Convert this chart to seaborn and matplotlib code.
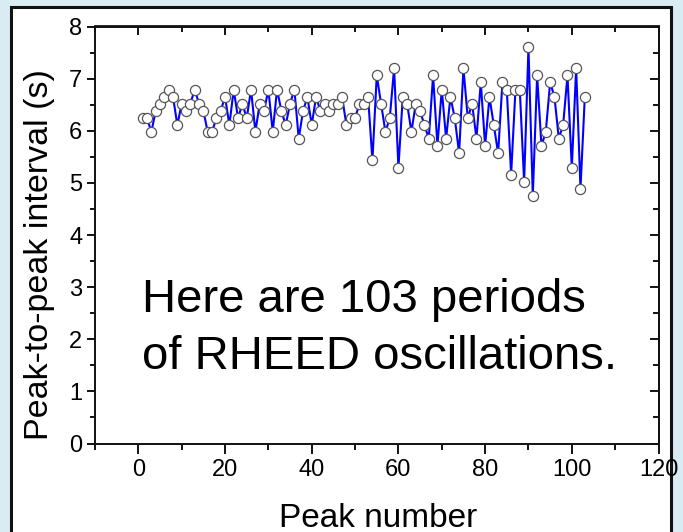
import matplotlib
matplotlib.use("Agg")
import matplotlib.pyplot as plt
import seaborn as sns
import pandas as pd
from matplotlib.patches import Rectangle
from matplotlib.ticker import MultipleLocator

peak_number = list(range(1, 104))
interval = [
    6.24, 6.24, 5.98, 6.38, 6.52, 6.65, 6.79, 6.65, 6.11, 6.52,
    6.38, 6.52, 6.79, 6.52, 6.38, 5.98, 5.98, 6.24, 6.38, 6.65,
    6.11, 6.79, 6.24, 6.52, 6.24, 6.79, 5.98, 6.52, 6.38, 6.79,
    5.98, 6.79, 6.38, 6.11, 6.52, 6.79, 5.85, 6.38, 6.65, 6.11,
    6.65, 6.38, 6.52, 6.38, 6.52, 6.52, 6.65, 6.11, 6.24, 6.24,
    6.52, 6.52, 6.65, 5.43, 7.06, 6.52, 5.98, 6.24, 7.20, 5.29,
    6.65, 6.52, 5.98, 6.52, 6.38, 6.11, 5.85, 7.06, 5.71, 6.79,
    5.85, 6.65, 6.24, 5.57, 7.20, 6.24, 6.52, 5.85, 6.93, 5.71,
    6.65, 6.11, 5.57, 6.93, 6.79, 5.16, 6.79, 6.79, 5.02, 7.60,
    4.75, 7.06, 5.71, 5.98, 6.93, 6.65, 5.85, 6.11, 7.06, 5.29,
    7.20, 4.89, 6.65,
]
df = pd.DataFrame({"Peak number": peak_number, "Interval": interval})

sns.set_theme(style="ticks")
plt.rcParams["font.family"] = ["Liberation Sans", "DejaVu Sans"]

W, H = 683, 532
fig = plt.figure(figsize=(W / 100, H / 100), dpi=100)
fig.patch.set_facecolor("#d9ecf3")
# white panel with dark frame
fig.patches.append(Rectangle((10.5 / W, -0.05), (671 - 10.5) / W, (H - 6.5) / H + 0.05,
                             transform=fig.transFigure, facecolor="white",
                             edgecolor="#111111", linewidth=2.2, zorder=-10))

ax = fig.add_axes([95 / W, (H - 443.5) / H, (658.5 - 95) / W, (443.5 - 26.5) / H])
ax.set_facecolor("none")
ax.set_zorder(5)

sns.lineplot(data=df, x="Peak number", y="Interval", ax=ax, color="#0000ff",
             linewidth=1.5, marker="o", markersize=7.3, markerfacecolor="white",
             markeredgecolor="#555555", markeredgewidth=0.9)

ax.set_xlim(-10, 120)
ax.set_ylim(0, 8)
ax.xaxis.set_major_locator(MultipleLocator(20))
ax.xaxis.set_minor_locator(MultipleLocator(10))
ax.yaxis.set_major_locator(MultipleLocator(1))
ax.yaxis.set_minor_locator(MultipleLocator(0.5))

for s in ax.spines.values():
    s.set_linewidth(1.4)
    s.set_color("#111111")
    s.set_visible(True)

ax.tick_params(axis="both", which="both", colors="#111111", width=1.4,
               labelsize=17, labelcolor="black")
ax.tick_params(axis="x", which="major", direction="out", length=7, pad=4)
ax.tick_params(axis="x", which="minor", direction="out", length=4.5)
ax.tick_params(axis="y", which="major", direction="out", length=6, pad=3)
ax.tick_params(axis="y", which="minor", direction="out", length=3.5)

# top and right spines ticks inward via secondary axes
axt = ax.secondary_xaxis("top")
axt.xaxis.set_major_locator(MultipleLocator(20))
axt.xaxis.set_minor_locator(MultipleLocator(10))
axt.tick_params(which="major", direction="in", length=6.5, width=1.4, labeltop=False, colors="#111111")
axt.tick_params(which="minor", direction="in", length=4, width=1.4, colors="#111111")
axt.spines["top"].set_linewidth(1.4)
axr = ax.secondary_yaxis("right")
axr.yaxis.set_major_locator(MultipleLocator(1))
axr.yaxis.set_minor_locator(MultipleLocator(0.5))
axr.tick_params(which="major", direction="in", length=6.5, width=1.4, labelright=False, colors="#111111")
axr.tick_params(which="minor", direction="in", length=4, width=1.4, colors="#111111")
axr.spines["right"].set_linewidth(1.4)

ax.set_xlabel("Peak number", fontsize=24, color="black")
ax.set_ylabel("Peak-to-peak interval (s)", fontsize=24.5, color="black")
ax.xaxis.set_label_coords(0.502, -0.143)
ax.yaxis.set_label_coords(-0.071, 0.452)

fig.text(141.5 / W, (H - 312) / H, "Here are 103 periods", fontsize=34,
         va="baseline", ha="left", color="black", zorder=6)
fig.text(141.5 / W, (H - 369) / H, "of RHEED oscillations.", fontsize=34,
         va="baseline", ha="left", color="black", zorder=6)

fig.savefig("out.png", dpi=100, facecolor=fig.get_facecolor())
